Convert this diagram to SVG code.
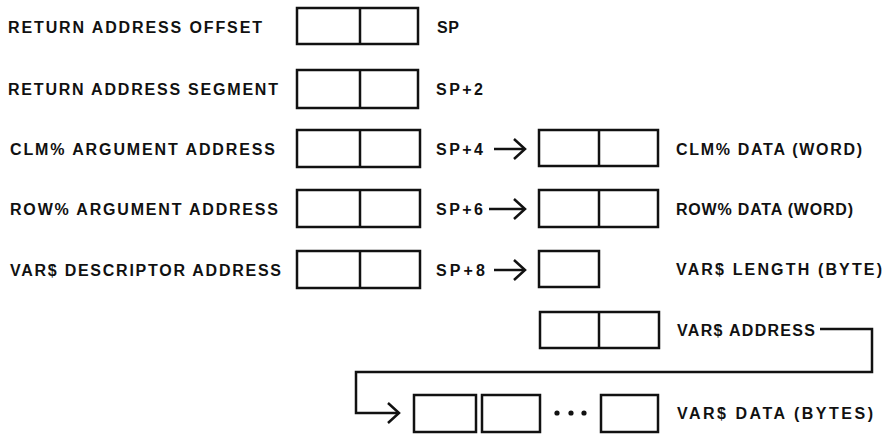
<svg xmlns="http://www.w3.org/2000/svg" width="884" height="434" viewBox="0 0 884 434">
<style>
  text { font-family: "Liberation Sans", Arial, sans-serif; font-weight: bold; font-size: 16px; fill: #111; }
  .box { fill: #fff; stroke: #111; stroke-width: 2.5; }
  .div { stroke: #111; stroke-width: 2.5; }
  .conn { fill: none; stroke: #111; stroke-width: 2.5; }
  .dot { fill: #111; }
</style>
<defs>
  <marker id="chev" markerUnits="userSpaceOnUse" markerWidth="16" markerHeight="26" viewBox="0 0 16 26" refX="14" refY="13" orient="auto">
    <path d="M3,3 L14,13 L3,23" fill="none" stroke="#111" stroke-width="2.5"/>
  </marker>
</defs>
<rect width="884" height="434" fill="#fff"/>

<g id="row-ret-offset">
  <text x="8" y="33" textLength="254" lengthAdjust="spacing">RETURN ADDRESS OFFSET</text>
  <rect class="box" x="297" y="8" width="121" height="36"/>
  <line class="div" x1="360" y1="8" x2="360" y2="44"/>
  <text x="437" y="33" textLength="22" lengthAdjust="spacing">SP</text>
</g>

<g id="row-ret-segment">
  <text x="8" y="95" textLength="270" lengthAdjust="spacing">RETURN ADDRESS SEGMENT</text>
  <rect class="box" x="297" y="70" width="121" height="38"/>
  <line class="div" x1="360" y1="70" x2="360" y2="108"/>
  <text x="436" y="95" textLength="47" lengthAdjust="spacing">SP+2</text>
</g>

<g id="row-clm">
  <text x="10" y="155" textLength="265" lengthAdjust="spacing">CLM% ARGUMENT ADDRESS</text>
  <rect class="box" x="297" y="130" width="123" height="37"/>
  <line class="div" x1="360" y1="130" x2="360" y2="167"/>
  <text x="436" y="155" textLength="47" lengthAdjust="spacing">SP+4</text>
</g>

<g id="clm-data">
  <rect class="box" x="539" y="130" width="119" height="36"/>
  <line class="div" x1="599" y1="130" x2="599" y2="166"/>
  <text x="676" y="155" textLength="186" lengthAdjust="spacing">CLM% DATA (WORD)</text>
</g>

<g id="row-row">
  <text x="10" y="215" textLength="268" lengthAdjust="spacing">ROW% ARGUMENT ADDRESS</text>
  <rect class="box" x="297" y="190" width="123" height="37"/>
  <line class="div" x1="360" y1="190" x2="360" y2="227"/>
  <text x="436" y="215" textLength="47" lengthAdjust="spacing">SP+6</text>
</g>

<g id="row-data">
  <rect class="box" x="539" y="190" width="119" height="37"/>
  <line class="div" x1="599" y1="190" x2="599" y2="227"/>
  <text x="676" y="215" textLength="177" lengthAdjust="spacing">ROW% DATA (WORD)</text>
</g>

<g id="row-var">
  <text x="10" y="276" textLength="271" lengthAdjust="spacing">VAR$ DESCRIPTOR ADDRESS</text>
  <rect class="box" x="297" y="251" width="123" height="37"/>
  <line class="div" x1="360" y1="251" x2="360" y2="288"/>
  <text x="436" y="276" textLength="49" lengthAdjust="spacing">SP+8</text>
</g>

<g id="var-length">
  <rect class="box" x="539" y="251" width="60" height="36"/>
  <text x="676" y="275" textLength="206" lengthAdjust="spacing">VAR$ LENGTH (BYTE)</text>
</g>

<g id="var-address">
  <rect class="box" x="540" y="312" width="119" height="36"/>
  <line class="div" x1="599" y1="312" x2="599" y2="348"/>
  <text x="677" y="336" textLength="138" lengthAdjust="spacing">VAR$ ADDRESS</text>
</g>

<g id="var-data">
  <rect class="box" x="414" y="395" width="62" height="37"/>
  <rect class="box" x="482" y="395" width="58" height="37"/>
  <circle class="dot" cx="557" cy="413" r="2.6"/>
  <circle class="dot" cx="571" cy="413" r="2.6"/>
  <circle class="dot" cx="584" cy="413" r="2.6"/>
  <rect class="box" x="601" y="395" width="57" height="37"/>
  <text x="677" y="419" textLength="196" lengthAdjust="spacing">VAR$ DATA (BYTES)</text>
</g>

<g id="connectors">
  <line class="conn" x1="494" y1="149" x2="525" y2="149" marker-end="url(#chev)"/>
  <line class="conn" x1="489" y1="209" x2="525" y2="209" marker-end="url(#chev)"/>
  <line class="conn" x1="494" y1="270" x2="525" y2="270" marker-end="url(#chev)"/>
  <polyline class="conn" points="820,329 872,329 872,372 356,372 356,413 399,413" marker-end="url(#chev)"/>
</g>
</svg>
